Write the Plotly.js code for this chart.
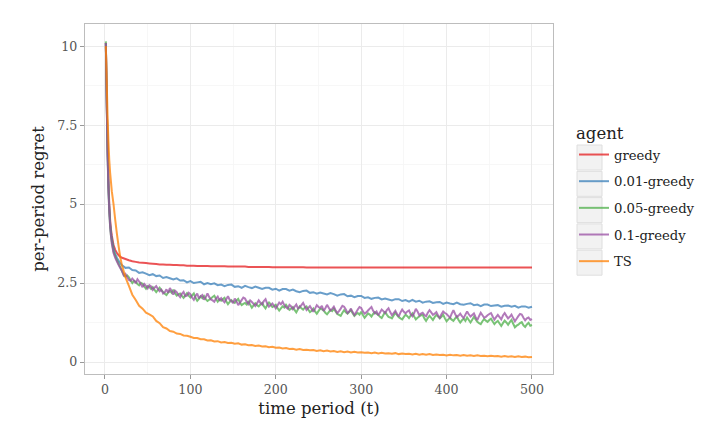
<!DOCTYPE html>
<html>
<head>
<meta charset="utf-8">
<script src="https://cdn.plot.ly/plotly-3.0.1.min.js"></script>
<style>html,body{margin:0;padding:0;background:#fff;}#chart{width:706px;height:437px;}</style>
</head>
<body>
<div id="chart"></div>
<script>
// sampled time periods (coarse: greedy, 0.01-greedy, TS)
const timePeriod = [1,2,3,4,5,6,7,8,10,12,14,16,18,
20,24,28,32,36,40,44,48,52,56,
60,64,68,72,76,80,84,88,92,96,
100,104,108,112,116,120,124,128,132,136,
140,144,148,152,156,160,164,168,172,176,
180,184,188,192,196,200,204,208,212,216,
220,224,228,232,236,240,244,248,252,256,
260,264,268,272,276,280,284,288,292,296,
300,304,308,312,316,320,324,328,332,336,
340,344,348,352,356,360,364,368,372,376,
380,384,388,392,396,400,404,408,412,416,
420,424,428,432,436,440,444,448,452,456,
460,464,468,472,476,480,484,488,492,496,
500];

// finer time periods (0.05-greedy, 0.1-greedy)
const timePeriodFine = [1,2,3,4,5,6,7,8,10,12,14,16,18,
20,22,24,26,28,30,32,34,36,38,40,42,44,46,48,50,52,54,56,58,
60,62,64,66,68,70,72,74,76,78,80,82,84,86,88,90,92,94,96,98,
100,102,104,106,108,110,112,114,116,118,120,122,124,126,128,130,132,134,136,138,
140,142,144,146,148,150,152,154,156,158,160,162,164,166,168,170,172,174,176,178,
180,182,184,186,188,190,192,194,196,198,200,202,204,206,208,210,212,214,216,218,
220,222,224,226,228,230,232,234,236,238,240,242,244,246,248,250,252,254,256,258,
260,262,264,266,268,270,272,274,276,278,280,282,284,286,288,290,292,294,296,298,
300,302,304,306,308,310,312,314,316,318,320,322,324,326,328,330,332,334,336,338,
340,342,344,346,348,350,352,354,356,358,360,362,364,366,368,370,372,374,376,378,
380,382,384,386,388,390,392,394,396,398,400,402,404,406,408,410,412,414,416,418,
420,422,424,426,428,430,432,434,436,438,440,442,444,446,448,450,452,454,456,458,
460,462,464,466,468,470,472,474,476,478,480,482,484,486,488,490,492,494,496,498,
500];

const agentNames = ["greedy","0.01-greedy","0.05-greedy","0.1-greedy","TS"];

const greedy = [10.1,8.4,6.9,5.8,5.0,4.5,4.2,4.0,3.7,3.55,3.45,3.38,3.33,
3.30,3.26,3.22,3.19,3.17,3.15,3.14,3.13,3.12,3.11,
3.10,3.09,3.09,3.08,3.08,3.07,3.07,3.06,3.06,3.05,
3.05,3.05,3.04,3.04,3.04,3.04,3.03,3.03,3.03,3.03,
3.03,3.02,3.02,3.02,3.02,3.02,3.02,3.01,3.01,3.01,
3.01,3.01,3.01,3.01,3.00,3.00,3.00,3.00,3.00,3.00,
3.00,3.00,3.00,3.00,2.99,2.99,2.99,2.99,2.99,2.99,
2.99,2.99,2.99,2.99,2.99,2.99,2.99,2.99,2.99,2.99,
2.99,2.99,2.99,2.99,2.99,2.99,2.99,2.99,2.99,2.99,
2.99,2.99,2.99,2.99,2.99,2.99,2.99,2.99,2.99,2.99,
2.99,2.99,2.99,2.99,2.99,2.99,2.99,2.99,2.99,2.99,
2.99,2.99,2.99,2.99,2.99,2.99,2.99,2.99,2.99,2.99,
2.99,2.99,2.99,2.99,2.99,2.99,2.99,2.99,2.99,2.99,
2.99];

const eps001 = [10.1,8.3,6.7,5.6,4.9,4.4,4.1,3.9,3.6,3.42,3.3,3.2,3.12,
3.06,2.98,2.99,2.91,2.90,2.82,2.84,2.80,2.75,2.78,
2.72,2.74,2.66,2.69,2.65,2.61,2.65,2.58,2.59,2.52,
2.56,2.50,2.52,2.54,2.46,2.50,2.46,2.49,2.43,2.45,
2.40,2.44,2.45,2.38,2.40,2.35,2.41,2.37,2.34,2.39,
2.35,2.31,2.35,2.35,2.29,2.32,2.26,2.31,2.31,2.26,
2.29,2.24,2.21,2.25,2.26,2.19,2.21,2.16,2.20,2.17,
2.14,2.18,2.15,2.10,2.14,2.15,2.08,2.10,2.05,2.09,
2.09,2.03,2.05,2.00,2.03,2.04,1.98,2.01,1.98,1.95,
1.99,1.99,1.93,1.96,1.91,1.97,1.91,1.94,1.88,1.91,
1.92,1.87,1.89,1.90,1.84,1.88,1.85,1.83,1.88,1.83,
1.81,1.84,1.86,1.80,1.82,1.77,1.82,1.82,1.77,1.79,
1.80,1.75,1.78,1.79,1.75,1.78,1.72,1.76,1.76,1.72,
1.75];

const eps005 = [10.15,8.3,6.7,5.5,4.8,4.3,4.0,3.8,3.5,3.35,3.22,3.1,3.0,
2.87,2.76,2.70,2.74,2.68,2.58,2.50,2.57,2.54,2.47,2.43,2.51,2.48,2.39,2.32,2.40,2.37,2.31,2.37,2.28,
2.21,2.28,2.35,2.27,2.22,2.16,2.12,2.20,2.25,2.19,2.29,2.18,2.10,2.14,2.17,2.09,2.03,2.11,2.18,2.10,
2.04,2.11,2.17,2.03,1.94,2.00,2.08,2.02,2.09,1.99,1.93,1.97,2.01,2.06,2.10,2.00,1.91,1.98,1.94,1.99,
2.03,1.92,1.83,1.90,1.96,1.91,1.87,1.95,2.00,1.88,1.80,1.84,1.87,1.82,1.93,1.81,1.72,1.79,1.86,1.80,
1.76,1.82,1.87,1.77,1.70,1.80,1.90,1.81,1.74,1.77,1.81,1.71,1.63,1.70,1.76,1.72,1.81,1.73,1.65,1.69,
1.74,1.65,1.57,1.67,1.76,1.70,1.66,1.72,1.76,1.66,1.58,1.62,1.69,1.60,1.53,1.61,1.69,1.67,1.63,1.56,
1.51,1.58,1.65,1.61,1.69,1.60,1.52,1.49,1.46,1.56,1.64,1.57,1.53,1.59,1.64,1.54,1.46,1.51,1.55,1.50,
1.59,1.49,1.40,1.47,1.54,1.50,1.44,1.52,1.58,1.53,1.49,1.43,1.39,1.49,1.59,1.50,1.43,1.41,1.38,1.47,
1.56,1.48,1.42,1.38,1.35,1.43,1.50,1.45,1.39,1.47,1.54,1.44,1.35,1.40,1.44,1.48,1.49,1.38,1.30,1.39,
1.46,1.40,1.33,1.42,1.49,1.44,1.38,1.43,1.50,1.38,1.29,1.35,1.40,1.34,1.30,1.38,1.44,1.33,1.25,1.32,
1.37,1.30,1.41,1.33,1.25,1.34,1.43,1.35,1.27,1.23,1.20,1.29,1.36,1.31,1.27,1.33,1.37,1.28,1.20,1.26,
1.30,1.22,1.14,1.23,1.31,1.25,1.18,1.26,1.33,1.21,1.10,1.15,1.18,1.23,1.26,1.16,1.11,1.19,1.24,1.15,
1.17];

const eps01 = [10.1,8.2,6.6,5.5,4.8,4.3,4.0,3.75,3.45,3.3,3.18,3.07,2.97,
2.88,2.74,2.79,2.68,2.60,2.57,2.64,2.58,2.49,2.62,2.55,2.46,2.37,2.47,2.41,2.33,2.43,2.39,2.28,2.35,
2.40,2.31,2.24,2.29,2.17,2.21,2.30,2.19,2.34,2.25,2.13,2.26,2.21,2.12,2.05,2.16,2.22,2.08,2.10,2.19,
2.15,2.04,1.97,2.09,2.17,2.01,2.08,2.12,1.97,2.05,2.17,2.06,1.98,1.95,1.91,2.01,2.07,1.96,2.02,1.94,
1.89,1.99,2.08,1.97,1.93,1.86,2.01,1.92,1.80,1.88,1.96,2.04,2.01,1.90,1.83,1.95,1.90,1.84,1.77,1.86,
1.95,1.87,1.82,1.93,1.99,1.84,1.75,1.80,1.85,1.78,1.70,1.79,1.88,1.83,1.91,1.80,1.73,1.69,1.81,1.76,
1.67,1.75,1.82,1.70,1.73,1.80,1.87,1.76,1.65,1.71,1.77,1.68,1.59,1.69,1.80,1.74,1.71,1.78,1.62,1.70,
1.81,1.72,1.63,1.68,1.75,1.64,1.55,1.61,1.69,1.78,1.75,1.66,1.55,1.60,1.69,1.58,1.49,1.57,1.66,1.74,
1.71,1.60,1.53,1.57,1.63,1.69,1.74,1.62,1.54,1.60,1.48,1.57,1.66,1.61,1.55,1.64,1.70,1.58,1.48,1.55,
1.62,1.52,1.44,1.57,1.66,1.59,1.54,1.60,1.63,1.51,1.45,1.55,1.68,1.60,1.48,1.53,1.56,1.49,1.45,1.56,
1.64,1.57,1.49,1.53,1.58,1.47,1.40,1.51,1.60,1.55,1.52,1.46,1.40,1.53,1.64,1.52,1.42,1.47,1.53,1.45,
1.39,1.50,1.60,1.51,1.44,1.49,1.54,1.42,1.33,1.45,1.56,1.48,1.40,1.43,1.48,1.52,1.55,1.44,1.34,1.42,
1.49,1.42,1.35,1.47,1.55,1.46,1.38,1.43,1.50,1.39,1.29,1.37,1.45,1.52,1.50,1.40,1.32,1.38,1.41,1.33,
1.36];

const ts = [10.0,8.9,7.8,7.0,6.4,6.0,5.7,5.4,5.0,4.5,4.05,3.65,3.3,
3.05,2.68,2.41,2.13,1.96,1.78,1.69,1.56,1.51,1.44,
1.30,1.23,1.10,1.06,0.98,0.96,0.90,0.89,0.84,0.83,
0.80,0.76,0.76,0.72,0.72,0.68,0.69,0.65,0.66,0.62,
0.63,0.60,0.61,0.58,0.59,0.55,0.56,0.53,0.54,0.51,
0.52,0.49,0.50,0.47,0.48,0.45,0.46,0.43,0.44,0.41,
0.42,0.39,0.41,0.38,0.39,0.37,0.38,0.35,0.37,0.34,
0.36,0.33,0.35,0.32,0.34,0.31,0.33,0.30,0.32,0.30,
0.31,0.29,0.30,0.28,0.30,0.27,0.29,0.27,0.28,0.26,
0.28,0.25,0.27,0.25,0.26,0.24,0.26,0.23,0.25,0.23,
0.25,0.22,0.24,0.22,0.23,0.21,0.23,0.21,0.22,0.20,
0.22,0.20,0.21,0.19,0.21,0.19,0.20,0.18,0.20,0.18,
0.19,0.17,0.19,0.17,0.18,0.16,0.18,0.16,0.17,0.15,
0.16];

const seriesValues = [greedy, eps001, eps005, eps01, ts];
const seriesTimes = [timePeriod, timePeriod, timePeriodFine, timePeriodFine, timePeriod];
const colors = ["rgba(228,26,28,0.75)","rgba(55,126,184,0.75)","rgba(77,175,74,0.75)","rgba(152,78,163,0.75)","rgba(255,127,0,0.75)"];

const FONT = "DejaVu Serif";

const traces = agentNames.map((name, i) => ({
  x: seriesTimes[i],
  y: seriesValues[i],
  type: "scatter",
  mode: "lines",
  name: name,
  legendgroup: name,
  line: {color: colors[i], width: 2, simplify: false}
}));

// legend key backgrounds (ggplot style)
const shapes = [];
for (let i = 0; i < 5; i++) {
  const top = 145 + i * 26.3, bot = top + 25;
  shapes.push({
    type: "rect", xref: "paper", yref: "paper",
    x0: (577 - 85) / 468, x1: (602 - 85) / 468,
    y0: (374 - bot) / 350, y1: (374 - top) / 350,
    fillcolor: "#f2f2f2", line: {color: "#dedede", width: 1}, layer: "below"
  });
}

const layout = {
  width: 706, height: 437,
  margin: {l: 85, r: 153, t: 24, b: 63, autoexpand: false},
  paper_bgcolor: "#ffffff", plot_bgcolor: "#ffffff",
  font: {family: FONT, color: "#222"},
  showlegend: true,
  xaxis: {
    range: [-23.4, 524.6], tickvals: [0,100,200,300,400,500], automargin: false,
    ticks: "outside", ticklen: 4, tickcolor: "#999", tickwidth: 1,
    showline: true, mirror: true, linecolor: "#bdbdbd", linewidth: 1.3,
    showgrid: true, gridcolor: "#ebebeb", gridwidth: 1, zeroline: false,
    minor: {tickvals: [50,150,250,350,450], showgrid: true, gridcolor: "#f5f5f5", gridwidth: 0.8, ticks: ""},
    tickfont: {family: FONT, size: 12.6, color: "#555"},
    title: {text: "time period (t)", font: {family: FONT, size: 16.5, color: "#222"}, standoff: 6}
  },
  yaxis: {
    range: [-0.38, 10.70], tickvals: [0,2.5,5,7.5,10], ticktext: ["0","2.5","5","7.5","10"], automargin: false,
    ticks: "outside", ticklen: 4, tickcolor: "#999", tickwidth: 1,
    showline: true, mirror: true, linecolor: "#bdbdbd", linewidth: 1.3,
    showgrid: true, gridcolor: "#ebebeb", gridwidth: 1, zeroline: false,
    minor: {tickvals: [1.25,3.75,6.25,8.75], showgrid: true, gridcolor: "#f5f5f5", gridwidth: 0.8, ticks: ""},
    tickfont: {family: FONT, size: 12.6, color: "#555"},
    title: {text: "per-period regret", font: {family: FONT, size: 16.5, color: "#222"}, standoff: 8}
  },
  legend: {
    x: (574 - 85) / 468, y: (374 - 118) / 350, xanchor: "left", yanchor: "top",
    bgcolor: "rgba(0,0,0,0)", borderwidth: 0,
    tracegroupgap: 6.5,
    font: {family: FONT, size: 13.2, color: "#222"},
    title: {text: "agent", font: {family: FONT, size: 16.5, color: "#222"}}
  },
  shapes: shapes
};

Plotly.newPlot("chart", traces, layout, {displayModeBar: false, staticPlot: true});
</script>
</body>
</html>
